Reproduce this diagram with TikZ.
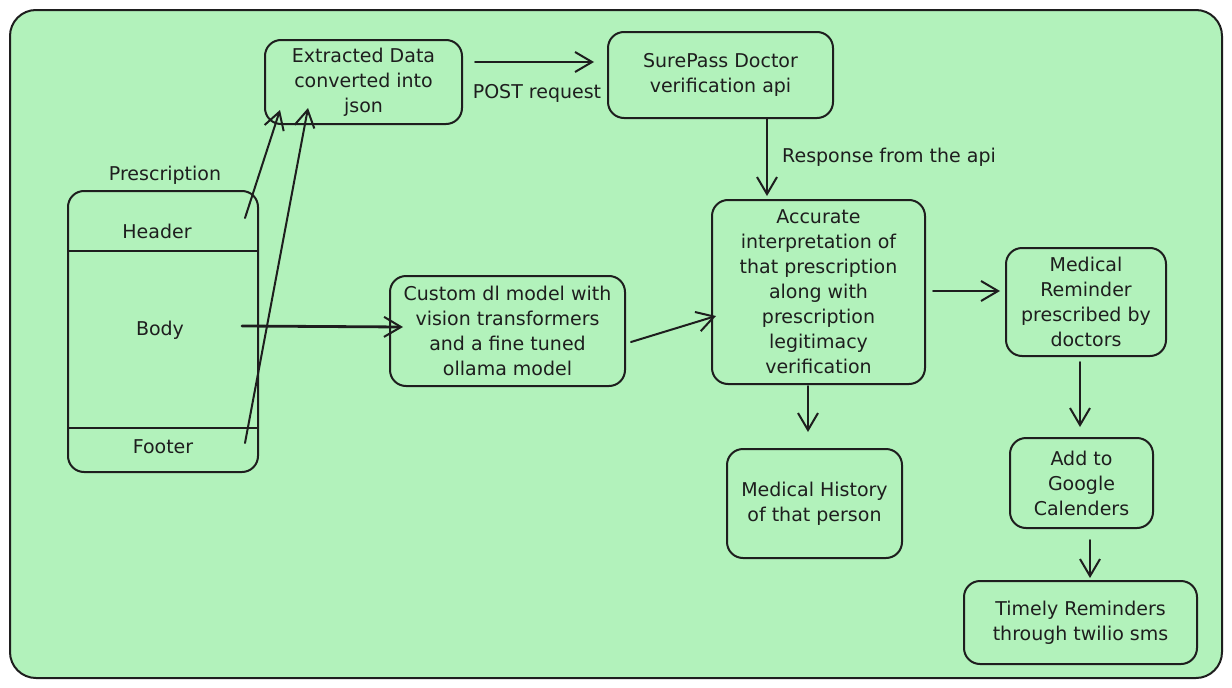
\documentclass[tikz,border=0pt]{standalone}
\usepackage{fontspec}
\setmainfont{DejaVu Sans}
\usetikzlibrary{arrows.meta}
\definecolor{bggreen}{HTML}{B2F2BB}
\definecolor{ink}{HTML}{1E1E1E}
\newcommand\dfont{\fontsize{19}{25}\selectfont}
\tikzset{
  box/.style={draw=ink, line width=2pt, rounded corners=16pt, align=center,
    font=\dfont, text=ink, inner sep=0pt},
  lbl/.style={font=\dfont, text=ink, inner sep=0pt},
  arr/.style={draw=ink, line width=2pt, line cap=round,
    -{Straight Barb[length=17pt,width=20pt,line width=2pt]}},
}
\begin{document}
\begin{tikzpicture}[x=1pt,y=-1pt]
\useasboundingbox (0,0) rectangle (1232,688);
\fill[white] (0,0) rectangle (1232,688);
\draw[ink, fill=bggreen, line width=2pt, rounded corners=26pt] (10,10) rectangle (1222,678);

% nodes
\node[box, minimum width=197pt, minimum height=84pt] (ext) at (363.5,82) {Extracted Data\\converted into\\json};
\node[box, minimum width=225pt, minimum height=86pt] (sp) at (720.5,75) {SurePass Doctor\\verification api};
\node[lbl] (prlbl) at (165,175) {Prescription};
\node[box, minimum width=190pt, minimum height=281pt] (presc) at (163,331.5) {};
\draw[ink, line width=2pt] (presc.west |- 0,251) -- (presc.east |- 0,251);
\draw[ink, line width=2pt] (presc.west |- 0,428) -- (presc.east |- 0,428);
\node[lbl] (hdr) at (157,231) {Header};
\node[lbl] (bdy) at (160,330) {Body};
\node[lbl] (ftr) at (163,447) {Footer};
\node[box, minimum width=235pt, minimum height=110pt] (cdl) at (507.5,331) {Custom dl model with\\vision transformers\\and a fine tuned\\ollama model};
\node[box, minimum width=213pt, minimum height=184pt] (acc) at (818.5,292) {Accurate\\interpretation of\\that prescription\\along with\\prescription\\legitimacy\\verification};
\node[box, minimum width=160pt, minimum height=108pt] (mrem) at (1086,302) {Medical\\Reminder\\prescribed by\\doctors};
\node[box, minimum width=175pt, minimum height=109pt] (mhist) at (814.5,503.5) {Medical History\\of that person};
\node[box, minimum width=143pt, minimum height=90pt] (gcal) at (1081.5,483) {Add to\\Google\\Calenders};
\node[box, minimum width=233pt, minimum height=83pt] (twl) at (1080.5,622.5) {Timely Reminders\\through twilio sms};

% connector end points
\coordinate (hS) at (245,218);
\coordinate (hE) at (280,110);
\coordinate (fS) at (245,443);
\coordinate (fE) at (308,108);
\coordinate (bS) at (242,326);
\coordinate (bE) at (403,327);
\coordinate (eS) at (475,62);
\coordinate (eE) at (594,62);
\coordinate (sS) at (767,119);
\coordinate (sE) at (767,196);
\coordinate (cS) at (631,342);
\coordinate (cE) at (716,316);
\coordinate (aS) at (933,291);
\coordinate (aE) at (1000,291);
\coordinate (a2S) at (808,386);
\coordinate (a2E) at (808,432);
\coordinate (mS) at (1080,362);
\coordinate (mE) at (1080,427);
\coordinate (gS) at (1090,540);
\coordinate (gE) at (1090,578);

\draw[arr] (hS) -- (hE);
\draw[arr] (fS) -- (fE);
\draw[arr, line width=2.8pt] (bS) -- (bE);
\draw[arr] (eS) -- (eE);
\node[lbl, anchor=center] (postlbl) at (537,93) {POST request};
\draw[arr] (sS) -- (sE);
\node[lbl, anchor=west] (resplbl) at (782,157) {Response from the api};
\draw[arr] (cS) -- (cE);
\draw[arr] (aS) -- (aE);
\draw[arr] (a2S) -- (a2E);
\draw[arr] (mS) -- (mE);
\draw[arr] (gS) -- (gE);
\end{tikzpicture}
\end{document}
